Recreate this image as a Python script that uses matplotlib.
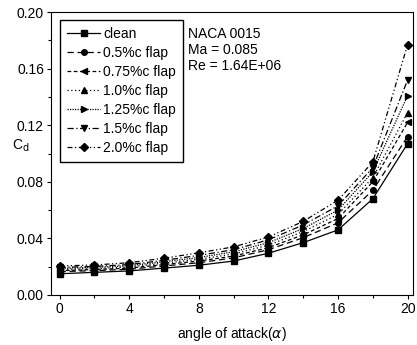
import matplotlib.pyplot as plt
from matplotlib.ticker import MultipleLocator

plt.rcParams['font.family'] = ['Liberation Sans', 'DejaVu Sans']
plt.rcParams['font.size'] = 10

# angle of attack (deg)
alpha = [0, 2, 4, 6, 8, 10, 12, 14, 16, 18, 20]

# drag coefficient for each configuration
cd_clean = [0.0150, 0.0160, 0.0170, 0.0190, 0.0210, 0.0240, 0.0295, 0.0370, 0.0460, 0.0680, 0.1070]
cd_05 = [0.0165, 0.0172, 0.0182, 0.0205, 0.0228, 0.0262, 0.0320, 0.0405, 0.0510, 0.0740, 0.1120]
cd_075 = [0.0172, 0.0180, 0.0190, 0.0215, 0.0240, 0.0275, 0.0335, 0.0425, 0.0540, 0.0800, 0.1220]
cd_10 = [0.0180, 0.0187, 0.0198, 0.0225, 0.0252, 0.0290, 0.0352, 0.0448, 0.0570, 0.0830, 0.1290]
cd_125 = [0.0188, 0.0195, 0.0207, 0.0235, 0.0265, 0.0305, 0.0370, 0.0470, 0.0600, 0.0870, 0.1410]
cd_15 = [0.0195, 0.0202, 0.0215, 0.0245, 0.0280, 0.0320, 0.0390, 0.0495, 0.0630, 0.0900, 0.1520]
cd_20 = [0.0205, 0.0212, 0.0228, 0.0260, 0.0298, 0.0340, 0.0410, 0.0520, 0.0670, 0.0940, 0.1770]

fig = plt.figure(figsize=(4.17, 3.45), dpi=100)
ax = fig.add_axes([0.122, 0.145, 0.868, 0.82])

k = dict(color='black', lw=0.9, ms=4)
ax.plot(alpha, cd_clean, 's-', label='clean', **k)
ax.plot(alpha, cd_05, 'o', ls=(0, (5, 3)), label='0.5%c flap', **k)
ax.plot(alpha, cd_075, '<', ls=(0, (3, 2)), label='0.75%c flap', **k)
ax.plot(alpha, cd_10, '^', ls=(0, (1, 2)), label='1.0%c flap', **k)
ax.plot(alpha, cd_125, '>', ls=(0, (1, 1)), label='1.25%c flap', **k)
ax.plot(alpha, cd_15, 'v', ls=(0, (5, 2, 1, 2)), label='1.5%c flap', **k)
ax.plot(alpha, cd_20, 'D', ls=(0, (4, 2, 1, 2, 1, 2)), label='2.0%c flap', **k)

ax.set_xlim(-0.5, 20.3)
ax.set_ylim(0, 0.20)
ax.xaxis.set_major_locator(MultipleLocator(4))
ax.xaxis.set_minor_locator(MultipleLocator(2))
ax.yaxis.set_major_locator(MultipleLocator(0.04))
ax.yaxis.set_minor_locator(MultipleLocator(0.02))
ax.yaxis.set_major_formatter(plt.FormatStrFormatter('%.2f'))
ax.tick_params(which='both', direction='out', length=3, width=0.8, pad=2)
ax.tick_params(which='minor', length=2)

ax.set_xlabel('angle of attack($\\alpha$)', fontsize=10)
ax.set_ylabel('C$_{\\rm d}$', rotation=0, fontsize=10)
ax.yaxis.set_label_coords(-0.083, 0.5)
ax.xaxis.set_label_coords(0.5, -0.105)

ax.legend(loc='upper left', fancybox=False, edgecolor='black', framealpha=1,
          handlelength=2.4, handletextpad=0.2, borderpad=0.5, labelspacing=0.36,
          borderaxespad=0, fontsize=10, bbox_to_anchor=(0.025, 0.972))
ax.text(0.38, 0.948, 'NACA 0015\nMa = 0.085\nRe = 1.64E+06', transform=ax.transAxes,
        va='top', ha='left', fontsize=10, linespacing=1.2)

fig.savefig('out.png', dpi=100)
